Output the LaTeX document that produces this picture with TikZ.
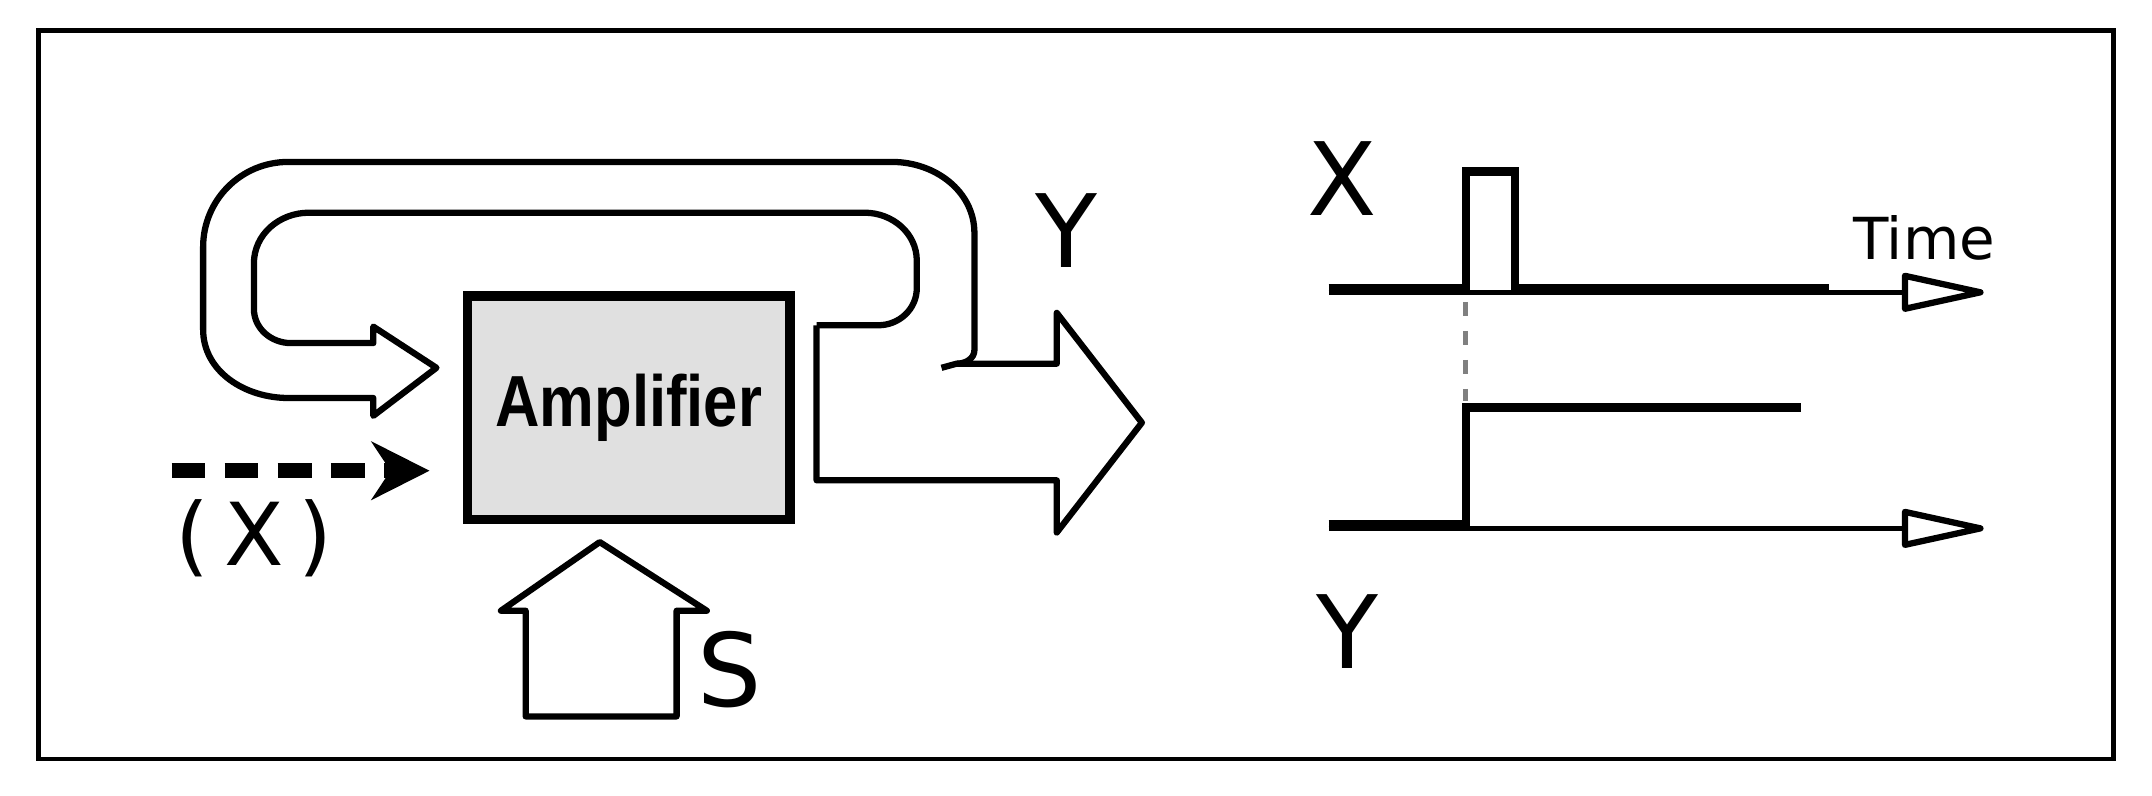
\documentclass[tikz,border=0pt]{standalone}
\usepackage{fontspec}
\setmainfont{DejaVu Sans}
\newfontfamily\ampfont{Liberation Sans}
\usetikzlibrary{arrows.meta}
\begin{document}
\begin{tikzpicture}[x=0.01cm,y=-0.01cm,
  outline/.style={line width=1.3pt,line join=round},
  sig/.style={line width=1.7pt},
  big/.style={font=\fontsize{21}{24}\selectfont},
  axis/.style={line width=1pt}]
\useasboundingbox (0,0) rectangle (1568,580);
\draw[line width=1pt] (28,22) rectangle (1540,553);
% amplifier
\node[draw,line width=2pt,fill=black!12,minimum width=2.35cm,minimum height=1.63cm,anchor=north west,font=\fontsize{15}{17}\selectfont\ampfont\bfseries] (amp) at (337,212) {\scalebox{0.85}[1]{Amplifier}};
% dashed input
\coordinate (xs) at (125,343);
\draw[line width=3pt,dash pattern=on 7pt off 4pt,-{Stealth[length=12pt,width=12pt]}] (xs) -- (313,343);
\node[font=\fontsize{18}{20}\selectfont] (xl) at (185,392) {(\,X\,)};
% S arrow
\draw[outline] (383,522) -- (383,445) -- (365,445) -- (437,395) -- (515,445) -- (493,445) -- (493,522) -- cycle;
\node[big] (sl) at (532,488) {S};
% output + feedback arrow
\draw[outline] (595,237) -- (640,237) to[out=0,in=-90] (668,210) -- (668,190) to[out=90,in=0] (630,155) -- (225,155) to[out=180,in=90] (185,192) -- (185,225) to[out=-90,in=180] (212,250) -- (272,250) -- (272,238) -- (318,268) -- (272,303) -- (272,290) -- (210,290) to[out=180,in=-90] (148,240) -- (148,180) to[out=90,in=180] (210,118) -- (650,118) to[out=0,in=90] (710,170) -- (710,255) to[out=-90,in=0] (697,265) -- (686,268);
\draw[outline] (697,265) -- (770,265) -- (770,228) -- (832,308) -- (770,388) -- (770,350) -- (595,350) -- (595,237);
\node[big] (yl1) at (777,168) {Y};
% right: X signal
\node[big] (xr) at (978,130) {X};
\coordinate (a1) at (968,213);
\coordinate (a1e) at (1388,213);
\draw[axis] (a1) -- (a1e);
\draw[outline] (1388,201) -- (1443,213) -- (1388,225) -- cycle;
\node[font=\fontsize{12}{14}\selectfont] (tl) at (1402,173) {Time};
\draw[sig] (968,210) -- (1068,210) -- (1068,125) -- (1104,125) -- (1104,210) -- (1333,210);
\draw[gray,line width=1pt,dashed] (1068,220) -- (1068,292);
% Y signal
\coordinate (a2) at (968,385);
\coordinate (a2e) at (1388,385);
\draw[axis] (a2) -- (a2e);
\draw[outline] (1388,373) -- (1443,385) -- (1388,397) -- cycle;
\draw[sig] (968,382) -- (1068,382) -- (1068,297) -- (1312,297);
\node[big] (yr) at (982,460) {Y};
\end{tikzpicture}
\end{document}
